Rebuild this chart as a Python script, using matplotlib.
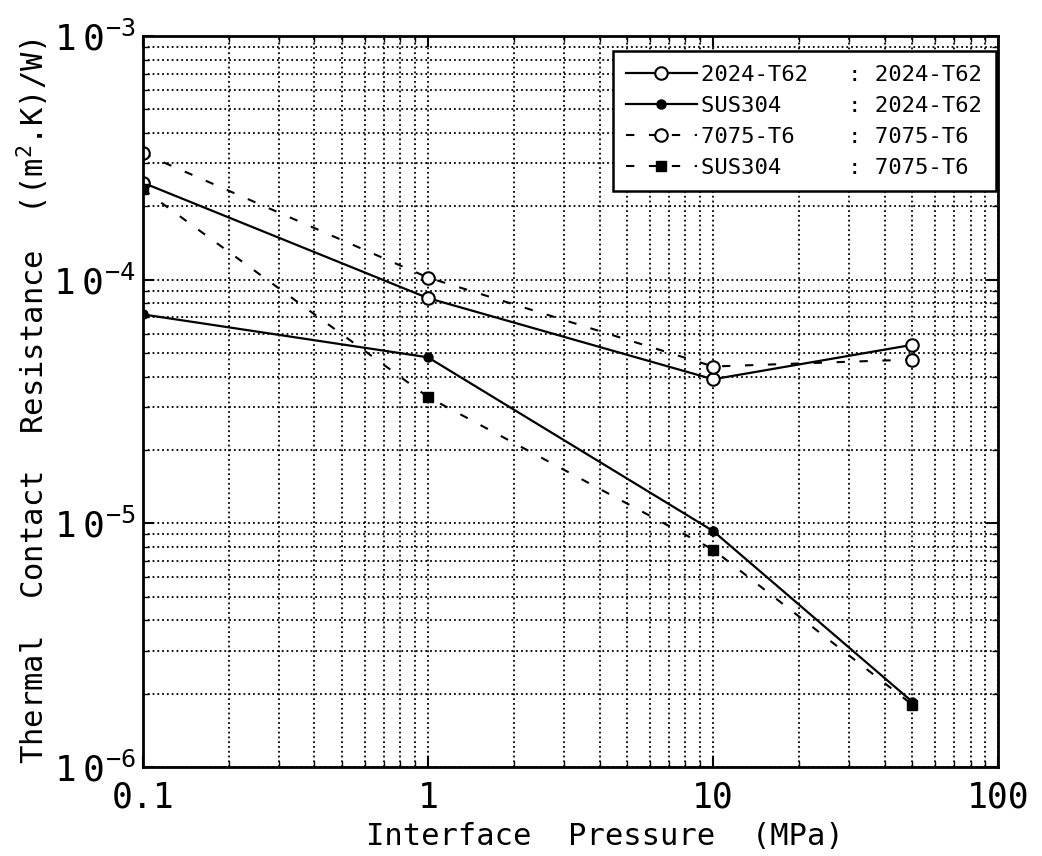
import numpy as np
import matplotlib.pyplot as plt
from matplotlib.ticker import LogLocator, NullFormatter, FixedLocator, FixedFormatter

plt.rcParams['font.family'] = ['DejaVu Sans Mono', 'DejaVu Sans']
plt.rcParams['mathtext.fontset'] = 'custom'
plt.rcParams['mathtext.rm'] = 'DejaVu Sans Mono'
plt.rcParams['mathtext.it'] = 'DejaVu Sans Mono'

# Interface pressure (MPa)
pressure = [0.1, 1, 10, 50]

# Thermal contact resistance ((m2.K)/W)
r_2024_2024 = [2.5e-4, 8.4e-5, 3.9e-5, 5.4e-5]
r_sus_2024 = [7.2e-5, 4.8e-5, 9.3e-6, 1.85e-6]
r_7075_7075 = [3.3e-4, 1.02e-4, 4.4e-5, 4.7e-5]
r_sus_7075 = [2.35e-4, 3.3e-5, 7.8e-6, 1.8e-6]

left_names = ['2024-T62', 'SUS304', '7075-T6', 'SUS304']
right_names = ['2024-T62', '2024-T62', '7075-T6', '7075-T6']

x_ticks = [0.1, 1, 10, 100]
x_labels = ['0.1', '1', '10', '100']
y_ticks = [1e-6, 1e-5, 1e-4, 1e-3]
y_labels = [r'$1\ 0^{-6}$', r'$1\ 0^{-5}$', r'$1\ 0^{-4}$', r'$1\ 0^{-3}$']

fig = plt.figure(figsize=(10.42, 8.56), dpi=100)
ax = fig.add_axes([0.137, 0.104, 0.821, 0.854])

dash = (0, (4, 7))
h1, = ax.plot(pressure, r_2024_2024, color='black', lw=1.6, marker='o',
              ms=9, mfc='white', mec='black', mew=1.5)
h2, = ax.plot(pressure, r_sus_2024, color='black', lw=1.6, marker='o',
              ms=6.5, mfc='black', mec='black')
h3, = ax.plot(pressure, r_7075_7075, color='black', lw=1.5, ls=dash, marker='o',
              ms=9, mfc='white', mec='black', mew=1.5)
h4, = ax.plot(pressure, r_sus_7075, color='black', lw=1.5, ls=dash, marker='s',
              ms=6.5, mfc='black', mec='black')

ax.set_xscale('log')
ax.set_yscale('log')
ax.set_xlim(0.1, 100)
ax.set_ylim(1e-6, 1e-3)

ax.xaxis.set_major_locator(FixedLocator(x_ticks))
ax.xaxis.set_major_formatter(FixedFormatter(x_labels))
ax.yaxis.set_major_locator(FixedLocator(y_ticks))
ax.yaxis.set_major_formatter(FixedFormatter(y_labels))
for axis in (ax.xaxis, ax.yaxis):
    axis.set_minor_locator(LogLocator(base=10, subs=np.arange(2, 10)))
    axis.set_minor_formatter(NullFormatter())

ax.grid(True, which='both', color='black', ls=':', lw=1.3)
ax.tick_params(which='major', direction='in', length=8, width=1.5,
               top=True, right=True)
ax.tick_params(which='minor', direction='in', length=4, width=1.0,
               top=True, right=True)
ax.tick_params(axis='x', pad=10, labelsize=25)
ax.tick_params(axis='y', pad=5, labelsize=26)
for s in ax.spines.values():
    s.set_linewidth(2)

ax.set_xlabel('Interface  Pressure  (MPa)', fontsize=22, labelpad=6)
ax.xaxis.set_label_coords(0.54, -0.075)
ax.set_ylabel(r'Thermal  Contact  Resistance  ((m$^2$.K)/W)', fontsize=22,
              labelpad=2)

# legend rows: "left   : right", monospaced so the colons line up
labels = [f'{a:<8}   : {b}' for a, b in zip(left_names, right_names)]
leg = ax.legend([h1, h2, h3, h4], labels, loc='upper right',
                bbox_to_anchor=(0.997, 0.979), fontsize=16, numpoints=1,
                handlelength=3.2, handletextpad=0.2, labelspacing=0.5,
                frameon=True, fancybox=False, edgecolor='black',
                borderpad=0.6, borderaxespad=0.0)
leg.get_frame().set_linewidth(1.8)
leg.get_frame().set_alpha(1)

fig.savefig('out.png', dpi=100)
